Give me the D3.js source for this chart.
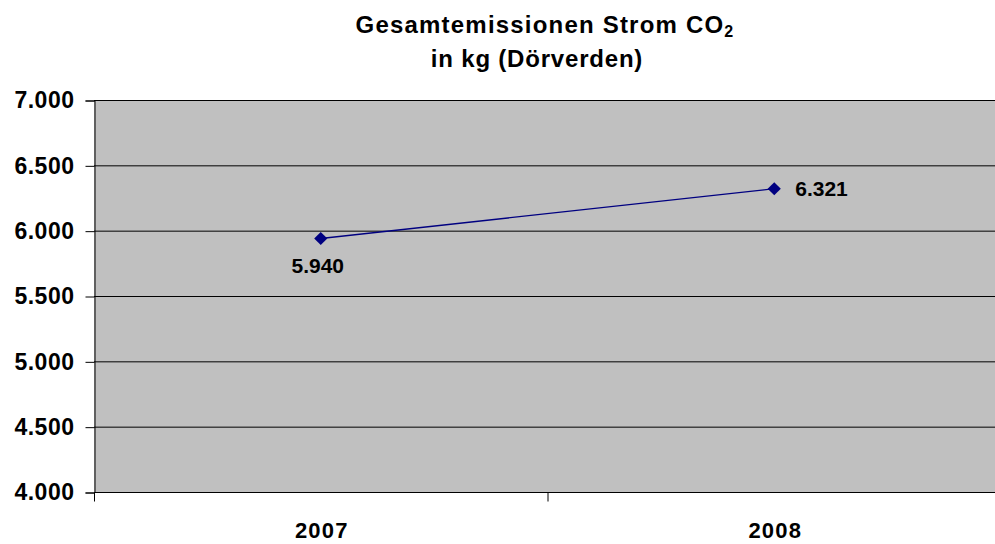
<!DOCTYPE html>
<html>
<head>
<meta charset="utf-8">
<script src="https://d3js.org/d3.v7.min.js"></script>
<style>
body { margin: 0; background: white; font-family: "Liberation Sans", Arial, sans-serif; }
</style>
</head>
<body>
<script>
// data
var years = ["2007", "2008"];
var emissions = [5940, 6321];
var yTicks = [4000, 4500, 5000, 5500, 6000, 6500, 7000];

var width = 995, height = 544;
var plotLeft = 94, plotTop = 100, plotBottom = 492, plotRight = 1001;

var fmt = function(v) { return d3.format(",")(v).replace(/,/g, "."); };

var svg = d3.select("body").append("svg")
  .attr("width", width).attr("height", height)
  .style("display", "block");

var x = d3.scaleBand().domain(years).range([plotLeft, plotRight]);
var y = d3.scaleLinear().domain([4000, 7000]).range([plotBottom, plotTop]);

// plot area
svg.append("rect")
  .attr("x", plotLeft).attr("y", plotTop)
  .attr("width", plotRight - plotLeft).attr("height", plotBottom - plotTop)
  .attr("fill", "#c0c0c0");

// gridlines
svg.append("g").selectAll("line")
  .data(yTicks.slice(1))
  .enter().append("line")
  .attr("x1", plotLeft).attr("x2", plotRight)
  .attr("y1", function(d) { return y(d) + 0.5; })
  .attr("y2", function(d) { return y(d) + 0.5; })
  .attr("stroke", "#000").attr("stroke-width", 1);

// y axis
var yAxis = svg.append("g")
  .attr("transform", "translate(" + (plotLeft + 0.5) + ",0.5)")
  .call(d3.axisLeft(y).tickValues(yTicks).tickFormat(fmt).tickSize(9).tickPadding(11));
yAxis.select(".domain").attr("stroke", "#000");
yAxis.selectAll(".tick line").attr("stroke", "#000");
yAxis.selectAll("text")
  .attr("font-family", "'Liberation Sans', Arial, sans-serif")
  .attr("font-size", 23).attr("font-weight", "bold").attr("fill", "#000")
  .attr("letter-spacing", 0.5);

// x axis
var xAxis = svg.append("g")
  .attr("transform", "translate(0," + (plotBottom + 0.5) + ")");
xAxis.append("line")
  .attr("x1", plotLeft).attr("x2", plotRight)
  .attr("stroke", "#000");
xAxis.selectAll(".xt")
  .data(years.concat(["end"]))
  .enter().append("line")
  .attr("class", "xt")
  .attr("x1", function(d, i) { return plotLeft + i * x.bandwidth() + 0.5; })
  .attr("x2", function(d, i) { return plotLeft + i * x.bandwidth() + 0.5; })
  .attr("y1", 0).attr("y2", 9)
  .attr("stroke", "#000");
xAxis.selectAll("text")
  .data(years)
  .enter().append("text")
  .attr("x", function(d) { return x(d) + x.bandwidth() / 2 + 1; })
  .attr("y", 45)
  .attr("text-anchor", "middle")
  .attr("font-size", 22).attr("font-weight", "bold")
  .attr("letter-spacing", 1.2)
  .text(function(d) { return d; });

// line
var pts = years.map(function(d, i) { return [x(d) + x.bandwidth() / 2, y(emissions[i])]; });
svg.append("path")
  .attr("d", d3.line()(pts))
  .attr("fill", "none")
  .attr("stroke", "#000080")
  .attr("stroke-width", 1.3);

svg.selectAll(".marker")
  .data(pts)
  .enter().append("path")
  .attr("class", "marker")
  .attr("transform", function(d) { return "translate(" + d[0] + "," + d[1] + ")"; })
  .attr("d", d3.symbol().type(d3.symbolDiamond2).size(110))
  .attr("fill", "#000080");

// data labels
svg.append("text")
  .attr("x", pts[0][0] - 3).attr("y", pts[0][1] + 34)
  .attr("text-anchor", "middle")
  .attr("font-size", 21).attr("font-weight", "bold")
  .text(fmt(emissions[0]));
svg.append("text")
  .attr("x", pts[1][0] + 21).attr("y", pts[1][1] + 7)
  .attr("text-anchor", "start")
  .attr("font-size", 21).attr("font-weight", "bold")
  .text(fmt(emissions[1]));

// title
var t = svg.append("text")
  .attr("x", 545).attr("y", 33)
  .attr("text-anchor", "middle")
  .attr("font-size", 24).attr("font-weight", "bold")
  .attr("letter-spacing", 1.2);
t.append("tspan").text("Gesamtemissionen Strom CO");
t.append("tspan").attr("font-size", 16).attr("dy", 4).text("2");
svg.append("text")
  .attr("x", 537).attr("y", 67)
  .attr("text-anchor", "middle")
  .attr("font-size", 24).attr("font-weight", "bold")
  .attr("letter-spacing", 0.8)
  .text("in kg (Dörverden)");
</script>
</body>
</html>
